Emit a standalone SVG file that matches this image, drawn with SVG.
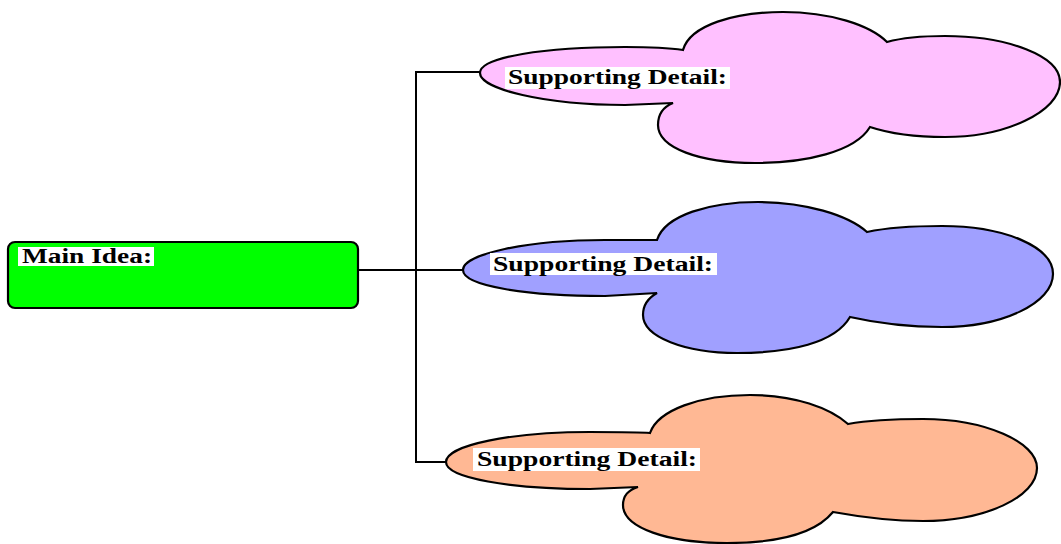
<svg xmlns="http://www.w3.org/2000/svg" width="1061" height="544" viewBox="0 0 1061 544">
<style>
.edge{stroke:#000;stroke-width:2;fill:none;stroke-linecap:square}
.cloud{stroke:#000;stroke-width:2.2;stroke-linejoin:miter}
.lbl{font-family:"Liberation Serif","Times New Roman",serif;font-weight:bold;font-size:20px;fill:#000}
.bg{fill:#fff}
</style>
<rect width="1061" height="544" fill="#fff"/>
<g id="connectors">
<path class="edge" d="M358,270 H416"/>
<path class="edge" d="M416,72 V462"/>
<path class="edge" d="M416,72 H480"/>
<path class="edge" d="M416,270 H463"/>
<path class="edge" d="M416,462 H446"/>
</g>
<g id="main-idea">
<rect x="8" y="242" width="350" height="66" rx="7" fill="#00ff00" stroke="#000" stroke-width="2.2"/>
<rect class="bg" x="18" y="247" width="136" height="19"/>
<text class="lbl" x="22" y="263" textLength="130" lengthAdjust="spacingAndGlyphs">Main Idea:</text>
</g>
<g id="detail-1">
<path class="cloud" fill="#ffc0ff" d="M480,73 C480,57 545,47 625,47 C650,47 670,48 683,50 C690,25 735,12 783,12 C830,12 870,25 887,42 C905,37 925,36 945,36 C1008,36 1060,56 1060,82 C1060,112 1005,137 945,137 C910,137 885,132 870,127 C855,152 805,163 755,163 C700,163 658,148 658,125 C658,115 663,107 673,103 L625,105 C545,105 480,89 480,73 Z"/>
<rect class="bg" x="505" y="67" width="225" height="22"/>
<text class="lbl" x="508" y="84" textLength="219" lengthAdjust="spacingAndGlyphs">Supporting Detail:</text>
</g>
<g id="detail-2">
<path class="cloud" fill="#a0a0ff" d="M463,270 C463,254 527,240 605,240 L657,240 C665,215 710,202 758,202 C805,202 848,215 867,232 C890,227 915,226 942,226 C1005,226 1053,247 1053,274 C1053,303 1003,327 942,327 C905,327 872,322 850,317 C835,343 790,353 737,353 C685,353 643,337 643,315 C643,306 648,298 657,293 L605,296 C527,296 463,286 463,270 Z"/>
<rect class="bg" x="490" y="253" width="227" height="22"/>
<text class="lbl" x="493" y="271" textLength="220" lengthAdjust="spacingAndGlyphs">Supporting Detail:</text>
</g>
<g id="detail-3">
<path class="cloud" fill="#ffb894" d="M446,462 C446,445 512,432 590,432 C620,432 640,432 650,433 C658,410 700,395 750,395 C795,395 830,408 848,424 C870,420 898,419 923,419 C985,419 1037,442 1037,468 C1037,497 985,521 923,521 C885,521 855,516 833,512 C815,534 775,543 727,543 C668,543 623,528 623,505 C623,496 628,490 638,487 L590,489 C510,489 446,478 446,462 Z"/>
<rect class="bg" x="473" y="448" width="227" height="23"/>
<text class="lbl" x="477" y="466" textLength="220" lengthAdjust="spacingAndGlyphs">Supporting Detail:</text>
</g>
</svg>
